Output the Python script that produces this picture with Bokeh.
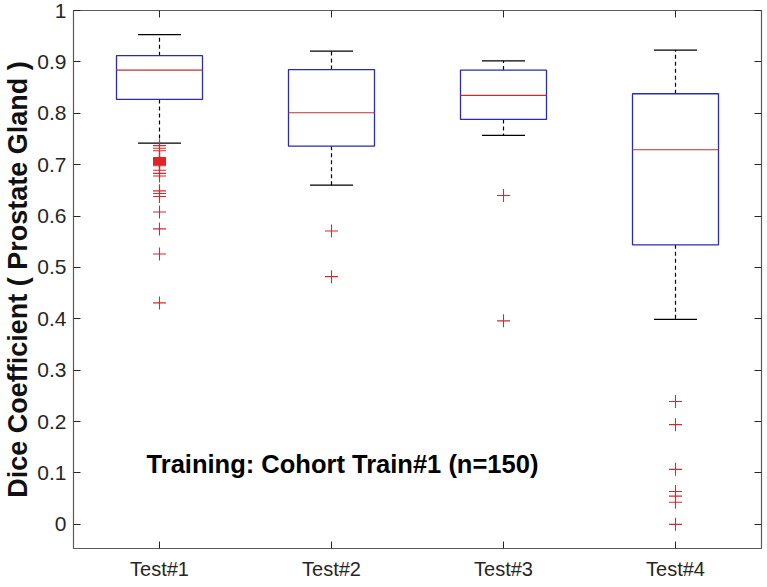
from bokeh.plotting import figure
from bokeh.models import FixedTicker, LinearAxis, Range1d, Label, ColumnDataSource
from bokeh.embed import file_html
from bokeh.resources import INLINE

categories = ["Test#1", "Test#2", "Test#3", "Test#4"]
positions = [1, 2, 3, 4]
q1 = [0.827, 0.736, 0.788, 0.544]
median = [0.884, 0.801, 0.835, 0.729]
q3 = [0.912, 0.885, 0.884, 0.838]
lower_whisker = [0.742, 0.660, 0.757, 0.399]
upper_whisker = [0.953, 0.921, 0.902, 0.923]
outliers_1 = [0.737, 0.732, 0.727, 0.714, 0.712, 0.710, 0.708, 0.706, 0.704,
              0.702, 0.700, 0.698, 0.689, 0.683, 0.678, 0.649, 0.644, 0.638,
              0.608, 0.575, 0.526, 0.431]
outliers_2 = [0.571, 0.482]
outliers_3 = [0.640, 0.396]
outliers_4 = [0.239, 0.194, 0.107, 0.064, 0.055, 0.043, 0.0]
y_ticks = [0.0, 0.1, 0.2, 0.3, 0.4, 0.5, 0.6, 0.7, 0.8, 0.9, 1.0]
y_tick_labels = ["0", "0.1", "0.2", "0.3", "0.4", "0.5", "0.6", "0.7", "0.8", "0.9", "1"]
y_label = "Dice Coefficient ( Prostate Gland )"
note = "Training: Cohort Train#1 (n=150)"

FONT = "Liberation Sans"
AX = "#262626"
BOX_HALF = 0.25
CAP_HALF = 0.125

p = figure(frame_width=688, frame_height=538, output_backend="svg",
           toolbar_location=None,
           x_range=Range1d(0.5, 4.5), y_range=Range1d(-0.047, 1.0),
           min_border_left=68, min_border_right=2, min_border_top=10,
           min_border_bottom=34)
p.grid.visible = False
p.outline_line_color = "#5a5a5a"
p.outline_line_width = 1.2
p.background_fill_color = "white"
p.border_fill_color = "white"

# axes
xa = p.xaxis[0]
xa.ticker = FixedTicker(ticks=positions)
xa.major_label_overrides = {pos: lab for pos, lab in zip(positions, categories)}
ya = p.yaxis[0]
ya.ticker = FixedTicker(ticks=y_ticks)
ya.major_label_overrides = {t: lab for t, lab in zip(y_ticks, y_tick_labels)}
ya.axis_label = y_label
for ax in (xa, ya):
    ax.axis_line_color = None
    ax.major_tick_in = 7
    ax.major_tick_out = 0
    ax.minor_tick_line_color = None
    ax.major_tick_line_color = AX
    ax.major_label_text_font = FONT
    ax.major_label_text_color = AX
xa.major_label_text_font_size = "20px"
ya.major_label_text_font_size = "21px"
xa.major_label_standoff = 9
ya.major_label_standoff = 7
ya.axis_label_text_font = FONT
ya.axis_label_text_font_style = "bold"
ya.axis_label_text_font_size = "27px"
ya.axis_label_text_color = "#111111"
ya.axis_label_standoff = 1

top = LinearAxis(ticker=FixedTicker(ticks=positions))
top.major_label_overrides = {pos: "" for pos in positions}
right = LinearAxis(ticker=FixedTicker(ticks=y_ticks))
right.major_label_overrides = {t: "" for t in y_ticks}
for ax in (top, right):
    ax.axis_line_color = None
    ax.major_tick_in = 7
    ax.major_tick_out = 0
    ax.minor_tick_line_color = None
    ax.major_tick_line_color = AX
    ax.major_label_standoff = 0
p.add_layout(top, "above")
p.add_layout(right, "right")

# boxes
src = ColumnDataSource(dict(
    x=positions, q1=q1, med=median, q3=q3, lo=lower_whisker, hi=upper_whisker,
    left=[x - BOX_HALF for x in positions], right=[x + BOX_HALF for x in positions],
    cl=[x - CAP_HALF for x in positions], cr=[x + CAP_HALF for x in positions],
))
p.segment(x0="x", x1="x", y0="q3", y1="hi", source=src, line_color="black",
          line_dash="4 3", line_width=1.2)
p.segment(x0="x", x1="x", y0="q1", y1="lo", source=src, line_color="black",
          line_dash="4 3", line_width=1.2)
p.segment(x0="cl", x1="cr", y0="hi", y1="hi", source=src, line_color="black", line_width=1.2)
p.segment(x0="cl", x1="cr", y0="lo", y1="lo", source=src, line_color="black", line_width=1.2)
p.quad(left="left", right="right", bottom="q1", top="q3", source=src,
       fill_color=None, line_color="#2a2ab4", line_width=1.3)
p.segment(x0="left", x1="right", y0="med", y1="med", source=src,
          line_color="#c0302f", line_width=1.2)

# outliers
ox, oy = [], []
for pos, outs in zip(positions, [outliers_1, outliers_2, outliers_3, outliers_4]):
    ox += [pos] * len(outs)
    oy += outs
p.scatter(x=ox, y=oy, marker="cross", size=13, line_color="#e0242a", line_width=1.1)

p.add_layout(Label(x=0.925, y=0.117, text=note, text_font=FONT,
                   text_font_style="bold", text_font_size="25.5px",
                   text_baseline="middle", text_align="left", text_color="black"))

open("out.html", "w").write(file_html(p, INLINE))
